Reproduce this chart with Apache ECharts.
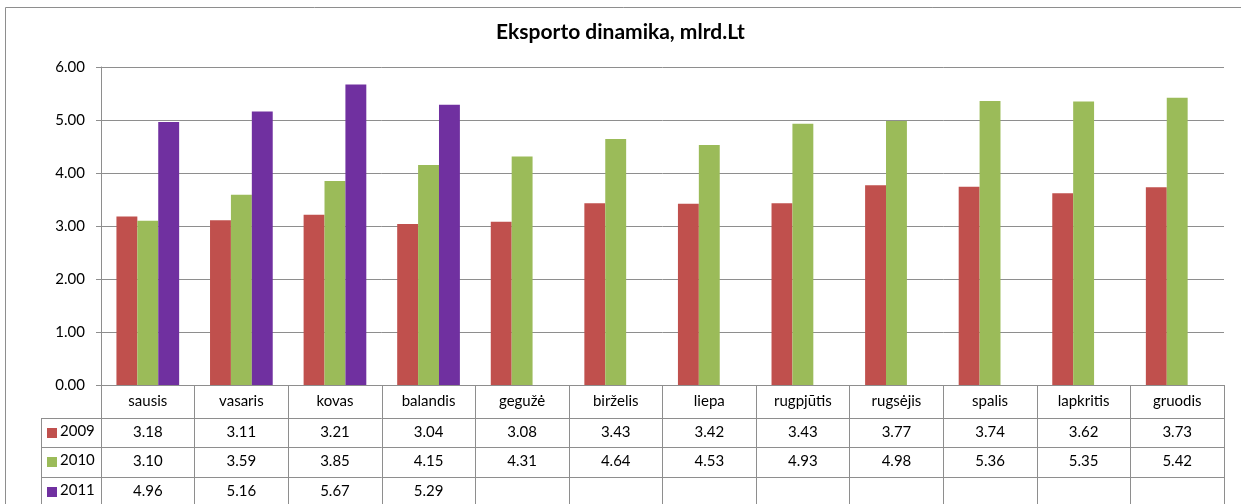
<!DOCTYPE html>
<html><head><meta charset="utf-8">
<script src="https://cdn.jsdelivr.net/npm/echarts@6/dist/echarts.min.js"></script>
<style>html,body{margin:0;padding:0;background:#fff}#c{width:1241px;height:504px}</style>
</head><body><div id="c"></div>
<script>
var categories = ['sausis','vasaris','kovas','balandis','gegužė','birželis','liepa','rugpjūtis','rugsėjis','spalis','lapkritis','gruodis'];
var seriesNames = ['2009','2010','2011'];
var values2009 = [3.18,3.11,3.21,3.04,3.08,3.43,3.42,3.43,3.77,3.74,3.62,3.73];
var values2010 = [3.10,3.59,3.85,4.15,4.31,4.64,4.53,4.93,4.98,5.36,5.35,5.42];
var values2011 = [4.96,5.16,5.67,5.29,null,null,null,null,null,null,null,null];
var yTicks = {min:0, max:6, interval:1};
var colors = ['#C0504D','#9BBB59','#7030A0'];
var allValues = [values2009, values2010, values2011];

var FONT = 'Lato, "Open Sans", sans-serif';
var LINE = '#8e8e8e';
var rowOffsets = [33, 62, 92];

var xAxes = [{
  type:'category', data:categories, position:'bottom', gridIndex:0,
  axisLine:{show:true, lineStyle:{color:LINE}},
  axisTick:{show:true, interval:0, length:120, lineStyle:{color:LINE}},
  axisLabel:{interval:0, margin:9, fontFamily:FONT, fontSize:15, color:'#000'}
}];
allValues.forEach(function(vals, i){
  xAxes.push({
    type:'category', data:categories, position:'bottom', offset:rowOffsets[i], gridIndex:0,
    axisLine:{show:true, lineStyle:{color:LINE}},
    axisTick:{show:false},
    axisLabel:{interval:0, margin:7, fontFamily:FONT, fontSize:15, color:'#000',
      formatter:function(v, idx){ var x = vals[idx]; return x==null ? '' : x.toFixed(2); }}
  });
});

var series = allValues.map(function(vals, i){
  return {name:seriesNames[i], type:'bar', xAxisIndex:0, data:vals,
    itemStyle:{color:colors[i]}, barGap:'0%', barCategoryGap:'33%'};
});

var graphics = [
  {type:'rect', shape:{x:5.5, y:7.5, width:1250, height:520}, style:{fill:null, stroke:LINE, lineWidth:1}, silent:true},
  {type:'text', left:'center', top:22, style:{text:'Eksporto dinamika, mlrd.Lt', fontFamily:FONT, fontSize:21, fontWeight:'bold', fill:'#000'}}
];
// legend column of the data table
var rowTops = [418, 447, 477];
graphics.push({type:'line', shape:{x1:41.5, y1:418, x2:41.5, y2:504}, style:{stroke:LINE, lineWidth:1}});
rowTops.forEach(function(t, i){
  graphics.push({type:'line', shape:{x1:41, y1:t+0.5, x2:101, y2:t+0.5}, style:{stroke:LINE, lineWidth:1}});
  graphics.push({type:'rect', shape:{x:47, y:t+10, width:10, height:10}, style:{fill:colors[i]}});
  graphics.push({type:'text', x:60, y:t+6, style:{text:seriesNames[i], fontFamily:FONT, fontSize:15, fill:'#000'}});
});

var chart = echarts.init(document.getElementById('c'));
chart.setOption({
  animation:false,
  grid:{left:101, right:17, top:67, bottom:119, containLabel:false},
  xAxis:xAxes,
  yAxis:{type:'value', min:yTicks.min, max:yTicks.max, interval:yTicks.interval,
    axisLine:{show:true, lineStyle:{color:LINE}},
    axisTick:{show:true, length:5, lineStyle:{color:LINE}},
    splitLine:{show:true, lineStyle:{color:LINE}},
    axisLabel:{margin:16, fontFamily:FONT, fontSize:15, color:'#000', formatter:function(v){return v.toFixed(2);}}},
  series:series,
  graphic:graphics
});
</script></body></html>
